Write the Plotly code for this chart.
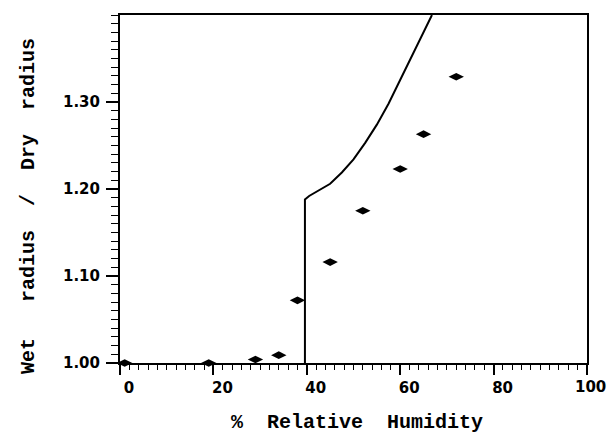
import plotly.graph_objects as go

# Measured data points (diamonds)
pts_x = [1, 19, 29, 34, 38, 45, 52, 60, 65, 72]
pts_y = [1.000, 1.000, 1.004, 1.009, 1.072, 1.116, 1.175, 1.223, 1.263, 1.329]

# Theoretical growth curve
curve_x = [39.6, 39.6, 40.5, 42.1, 45.0, 47.5, 50.0, 52.5, 55.0, 57.5, 60.0, 62.5, 65.0, 66.8]
curve_y = [1.000, 1.188, 1.192, 1.197, 1.206, 1.219, 1.234, 1.253, 1.274, 1.298, 1.325, 1.352, 1.380, 1.400]

# Tick labels
x_tick_vals = [0, 20, 40, 60, 80, 100]
x_tick_text = ["0", "20", "40", "60", "80", "100"]
y_tick_vals = [1.00, 1.10, 1.20, 1.30]
y_tick_text = ["1.00", "1.10", "1.20", "1.30"]

x_title = "%  Relative  Humidity"
y_title = "Wet   radius  /  Dry  radius"

tick_font = dict(family="DejaVu Sans", size=15, color="black", weight="bold")
title_font = dict(family="Liberation Mono", size=20, color="black", weight="bold")

fig = go.Figure()
fig.add_trace(go.Scatter(x=curve_x, y=curve_y, mode="lines",
                         line=dict(color="black", width=2), showlegend=False))
fig.add_trace(go.Scatter(x=pts_x, y=pts_y, mode="markers", cliponaxis=False,
                         marker=dict(symbol="diamond-wide", size=11, color="black"),
                         showlegend=False))

fig.update_layout(
    width=609, height=434,
    margin=dict(l=120, r=22, t=15, b=71),
    plot_bgcolor="white", paper_bgcolor="white",
    xaxis=dict(range=[0, 100], showgrid=False, zeroline=False,
               showline=True, linecolor="black", linewidth=2, mirror=True,
               ticks="outside", ticklen=10, tickwidth=1.5, tickcolor="black",
               tickvals=x_tick_vals,
               ticktext=x_tick_text[:-1] + [""],
               ticklabelshift=9,
               tickfont=tick_font,
               minor=dict(dtick=2, ticks="outside", ticklen=5, tickwidth=1.2, tickcolor="black")),
    yaxis=dict(range=[1.0, 1.4], showgrid=False, zeroline=False,
               showline=True, linecolor="black", linewidth=2, mirror=True,
               ticks="outside", ticklen=12, tickwidth=1.5, tickcolor="black",
               tickvals=y_tick_vals, ticktext=y_tick_text,
               ticklabelstandoff=3,
               tickfont=tick_font,
               minor=dict(dtick=0.01, ticks="outside", ticklen=7, tickwidth=1.2, tickcolor="black")),
    annotations=[
        dict(text=x_tick_text[-1], x=x_tick_vals[-1], xref="x", y=0, yref="paper",
             xanchor="center", yanchor="top", xshift=3, yshift=-13, showarrow=False,
             font=tick_font),
        dict(text=x_title, x=0.508, y=-0.172, xref="paper", yref="paper",
             xanchor="center", yanchor="middle", showarrow=False, font=title_font),
        dict(text=y_title, x=-0.197, y=0.451, xref="paper", yref="paper",
             xanchor="center", yanchor="middle", textangle=-90, showarrow=False,
             font=title_font),
    ],
)

fig.write_html("out.html", config={"displayModeBar": False},
               post_script="document.body.style.margin='0';document.body.style.overflow='hidden';")
